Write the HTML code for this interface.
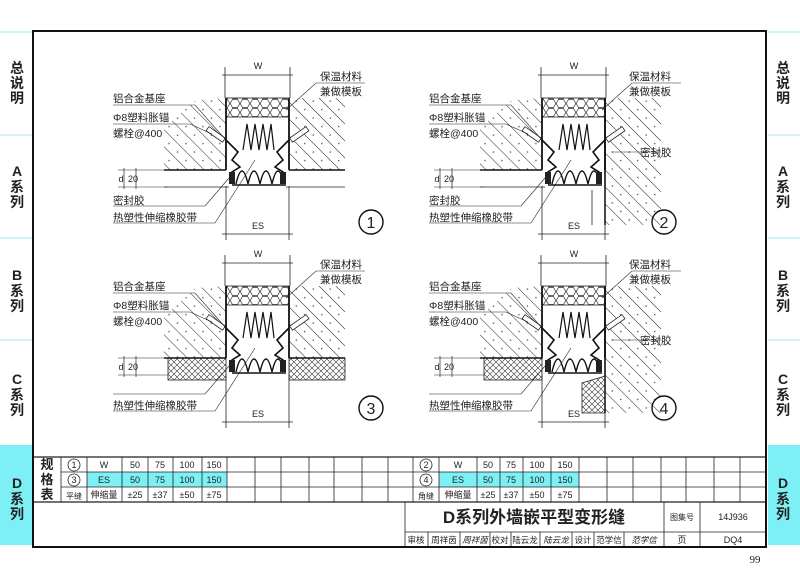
<!DOCTYPE html>
<html><head><meta charset="utf-8"><style>
html,body{margin:0;padding:0;background:#fff;}
svg{display:block;}
text{font-family:"Liberation Sans","Noto Sans CJK SC",sans-serif;fill:#222;}
.s{font-family:"Liberation Serif","Noto Serif CJK SC",serif;}
</style></head><body>
<svg width="800" height="572" viewBox="0 0 800 572" xmlns="http://www.w3.org/2000/svg">
<defs>
<pattern id="hatch" width="12" height="12" patternUnits="userSpaceOnUse" patternTransform="rotate(-45)">
<line x1="0" y1="0" x2="0" y2="12" stroke="#222" stroke-width="1"/>
<circle cx="6" cy="5" r="0.8" fill="#555"/>
</pattern>
<pattern id="hex" width="10" height="9" patternUnits="userSpaceOnUse">
<polygon points="2.5,0.5 7.5,0.5 9.8,4.5 7.5,8.5 2.5,8.5 0.2,4.5" fill="none" stroke="#333" stroke-width="0.7"/>
</pattern>
<pattern id="xh" width="6" height="6" patternUnits="userSpaceOnUse">
<path d="M0,0L6,6M6,0L0,6" stroke="#333" stroke-width="0.6"/>
</pattern>
<g id="core">
<line x1="225" y1="67" x2="225" y2="98" stroke="#222" stroke-width="0.8"/>
<line x1="290" y1="67" x2="290" y2="98" stroke="#222" stroke-width="0.8"/>
<line x1="222" y1="75" x2="293" y2="75" stroke="#222" stroke-width="0.8"/>
<rect x="226" y="98" width="63" height="19" fill="url(#hex)" stroke="#222" stroke-width="0.8"/>
<line x1="226" y1="98" x2="226" y2="170" stroke="#111" stroke-width="1.8"/>
<line x1="289" y1="98" x2="289" y2="170" stroke="#111" stroke-width="1.8"/>
<polyline points="243,150 247,124 251,150 255,124 259,150 263,124 267,150 271,124 274,150" fill="none" stroke="#111" stroke-width="1.2"/>
<path d="M236,184 Q242,158 248,184 Q254,158 260,184 Q266,158 272,184 Q278,158 284,184" fill="none" stroke="#111" stroke-width="1.4"/>
<line x1="232" y1="185" x2="286" y2="185" stroke="#111" stroke-width="1.5"/>
<polyline points="226,140 238,152 232,160 240,167 232,172 232,184" fill="none" stroke="#111" stroke-width="1.6"/>
<polyline points="289,140 277,152 283,160 275,167 283,172 283,184" fill="none" stroke="#111" stroke-width="1.6"/>
<rect x="229" y="172" width="6" height="12" fill="#222"/>
<rect x="280" y="172" width="6" height="12" fill="#222"/>
<rect x="206" y="132" width="20" height="5" fill="#fff" stroke="#222" stroke-width="0.8" transform="rotate(35 216 134)"/>
<rect x="289" y="132" width="20" height="5" fill="#fff" stroke="#222" stroke-width="0.8" transform="rotate(-35 299 134)"/>
<line x1="226" y1="186" x2="226" y2="240" stroke="#222" stroke-width="0.8"/>
<line x1="289" y1="186" x2="289" y2="240" stroke="#222" stroke-width="0.8"/>
<line x1="222" y1="234" x2="293" y2="234" stroke="#222" stroke-width="0.8"/>
<line x1="118" y1="170" x2="168" y2="170" stroke="#222" stroke-width="0.6"/>
<line x1="118" y1="187" x2="168" y2="187" stroke="#222" stroke-width="0.6"/>
<line x1="124" y1="168" x2="124" y2="189" stroke="#222" stroke-width="0.7"/>
<line x1="136" y1="168" x2="136" y2="189" stroke="#222" stroke-width="0.7"/>
<polyline points="113,105 195,105 226,140" fill="none" stroke="#222" stroke-width="0.6"/>
<polyline points="113,124 190,124 212,134" fill="none" stroke="#222" stroke-width="0.6"/>
<polyline points="113,206 205,206 229,178" fill="none" stroke="#222" stroke-width="0.6"/>
<polyline points="113,223 215,223 255,160" fill="none" stroke="#222" stroke-width="0.6"/>
<polyline points="365,83 316,83 286,110" fill="none" stroke="#222" stroke-width="0.6"/>
</g>
</defs>

<rect x="0" y="445" width="32" height="100" fill="#7df0f6"/>
<rect x="768" y="445" width="32" height="100" fill="#7df0f6"/>
<g stroke="#9eeaf0" stroke-width="1">
<line x1="0" y1="32" x2="32" y2="32"/><line x1="0" y1="135" x2="32" y2="135"/><line x1="0" y1="238" x2="32" y2="238"/><line x1="0" y1="340" x2="32" y2="340"/>
<line x1="768" y1="32" x2="800" y2="32"/><line x1="768" y1="135" x2="800" y2="135"/><line x1="768" y1="238" x2="800" y2="238"/><line x1="768" y1="340" x2="800" y2="340"/>
</g>
<g font-size="14" font-weight="bold" text-anchor="middle">
<text x="17" y="73">总</text><text x="17" y="88">说</text><text x="17" y="103">明</text>
<text x="17" y="176">A</text><text x="17" y="192">系</text><text x="17" y="207">列</text>
<text x="17" y="280">B</text><text x="17" y="296">系</text><text x="17" y="311">列</text>
<text x="17" y="384">C</text><text x="17" y="400">系</text><text x="17" y="415">列</text>
<text x="17" y="488">D</text><text x="17" y="504">系</text><text x="17" y="519">列</text>
<text x="783" y="73">总</text><text x="783" y="88">说</text><text x="783" y="103">明</text>
<text x="783" y="176">A</text><text x="783" y="192">系</text><text x="783" y="207">列</text>
<text x="783" y="280">B</text><text x="783" y="296">系</text><text x="783" y="311">列</text>
<text x="783" y="384">C</text><text x="783" y="400">系</text><text x="783" y="415">列</text>
<text x="783" y="488">D</text><text x="783" y="504">系</text><text x="783" y="519">列</text>
</g>

<polygon points="164,170 164,128 196,100 226,98 226,170" fill="url(#hatch)"/>
<polygon points="289,98 345,98 345,170 289,170" fill="url(#hatch)"/>
<line x1="164" y1="170" x2="226" y2="170" stroke="#111" stroke-width="1.6"/>
<line x1="289" y1="170" x2="345" y2="170" stroke="#111" stroke-width="1.6"/>
<line x1="164" y1="187" x2="229" y2="187" stroke="#222" stroke-width="0.8"/>
<line x1="286" y1="187" x2="345" y2="187" stroke="#222" stroke-width="0.8"/>
<use href="#core"/>

<g transform="translate(316,0)">
<polygon points="164,170 164,128 196,100 226,98 226,170" fill="url(#hatch)"/>
<polygon points="289,98 345,98 345,225 289,225" fill="url(#hatch)"/>
<line x1="164" y1="170" x2="226" y2="170" stroke="#111" stroke-width="1.6"/>
<line x1="289" y1="98" x2="289" y2="225" stroke="#111" stroke-width="1.6"/>
<line x1="164" y1="187" x2="229" y2="187" stroke="#222" stroke-width="0.8"/>
<line x1="276" y1="190" x2="276" y2="225" stroke="#222" stroke-width="0.8"/>
<line x1="296" y1="152" x2="345" y2="152" stroke="#222" stroke-width="0.6"/>
<use href="#core"/>
</g>

<g transform="translate(0,188)">
<polygon points="164,170 164,128 196,100 226,98 226,170" fill="url(#hatch)"/>
<polygon points="289,98 345,98 345,170 289,170" fill="url(#hatch)"/>
<rect x="168" y="170" width="58" height="22" fill="url(#xh)" stroke="#222" stroke-width="0.8"/>
<rect x="289" y="170" width="56" height="22" fill="url(#xh)" stroke="#222" stroke-width="0.8"/>
<line x1="164" y1="170" x2="226" y2="170" stroke="#111" stroke-width="1.6"/>
<line x1="289" y1="170" x2="345" y2="170" stroke="#111" stroke-width="1.6"/>
<use href="#core"/>
</g>

<g transform="translate(316,188)">
<polygon points="164,170 164,128 196,100 226,98 226,170" fill="url(#hatch)"/>
<polygon points="289,98 345,98 345,225 289,225" fill="url(#hatch)"/>
<rect x="168" y="170" width="58" height="22" fill="url(#xh)" stroke="#222" stroke-width="0.8"/>
<polygon points="266,195 289,188 289,225 266,225" fill="url(#xh)" stroke="#222" stroke-width="0.8"/>
<line x1="164" y1="170" x2="226" y2="170" stroke="#111" stroke-width="1.6"/>
<line x1="289" y1="98" x2="289" y2="225" stroke="#111" stroke-width="1.6"/>
<line x1="296" y1="152" x2="345" y2="152" stroke="#222" stroke-width="0.6"/>
<use href="#core"/>
</g>

<g font-size="10.5">
<text x="113" y="102">铝合金基座</text><text x="113" y="121">Φ8塑料胀锚</text><text x="113" y="137">螺栓@400</text>
<text x="113" y="204">密封胶</text><text x="113" y="221">热塑性伸缩橡胶带</text>
<text x="320" y="80">保温材料</text><text x="320" y="95">兼做模板</text>
<text x="429" y="102">铝合金基座</text><text x="429" y="121">Φ8塑料胀锚</text><text x="429" y="137">螺栓@400</text>
<text x="429" y="204">密封胶</text><text x="429" y="221">热塑性伸缩橡胶带</text>
<text x="629" y="80">保温材料</text><text x="629" y="95">兼做模板</text><text x="640" y="156">密封胶</text>
<text x="113" y="290">铝合金基座</text><text x="113" y="309">Φ8塑料胀锚</text><text x="113" y="325">螺栓@400</text>
<text x="113" y="409">热塑性伸缩橡胶带</text>
<text x="320" y="268">保温材料</text><text x="320" y="283">兼做模板</text>
<text x="429" y="290">铝合金基座</text><text x="429" y="309">Φ8塑料胀锚</text><text x="429" y="325">螺栓@400</text>
<text x="429" y="409">热塑性伸缩橡胶带</text>
<text x="629" y="268">保温材料</text><text x="629" y="283">兼做模板</text><text x="640" y="344">密封胶</text>
</g>
<g font-size="9" class="s" text-anchor="middle">
<text x="258" y="69">W</text><text x="258" y="229">ES</text>
<text x="574" y="69">W</text><text x="574" y="229">ES</text>
<text x="258" y="257">W</text><text x="258" y="417">ES</text>
<text x="574" y="257">W</text><text x="574" y="417">ES</text>
<text x="121" y="182">d</text><text x="133" y="182">20</text>
<text x="437" y="182">d</text><text x="449" y="182">20</text>
<text x="121" y="370">d</text><text x="133" y="370">20</text>
<text x="437" y="370">d</text><text x="449" y="370">20</text>
</g>
<g fill="none" stroke="#111" stroke-width="1.4">
<circle cx="371" cy="222" r="12"/><circle cx="664" cy="222" r="12"/>
<circle cx="371" cy="408" r="12"/><circle cx="664" cy="408" r="12"/>
</g>
<g font-size="16" text-anchor="middle">
<text x="371" y="228">1</text><text x="664" y="228">2</text><text x="371" y="414">3</text><text x="664" y="414">4</text>
</g>

<rect x="87" y="472" width="140" height="15" fill="#7df0f6"/>
<rect x="439" y="472" width="140" height="15" fill="#7df0f6"/>
<g stroke="#222" stroke-width="0.8">
<line x1="33" y1="457" x2="766" y2="457" stroke-width="1.2"/>
<line x1="61" y1="472" x2="766" y2="472"/><line x1="61" y1="487" x2="766" y2="487"/>
<line x1="33" y1="502" x2="766" y2="502" stroke-width="1.2"/>
<line x1="61" y1="457" x2="61" y2="502"/><line x1="87" y1="457" x2="87" y2="502"/><line x1="122" y1="457" x2="122" y2="502"/>
<line x1="148" y1="457" x2="148" y2="502"/><line x1="173" y1="457" x2="173" y2="502"/><line x1="202" y1="457" x2="202" y2="502"/>
<line x1="227" y1="457" x2="227" y2="502"/><line x1="255" y1="457" x2="255" y2="502"/><line x1="281" y1="457" x2="281" y2="502"/>
<line x1="309" y1="457" x2="309" y2="502"/><line x1="334" y1="457" x2="334" y2="502"/><line x1="362" y1="457" x2="362" y2="502"/>
<line x1="388" y1="457" x2="388" y2="502"/><line x1="413" y1="457" x2="413" y2="502"/>
<line x1="439" y1="457" x2="439" y2="502"/><line x1="477" y1="457" x2="477" y2="502"/><line x1="500" y1="457" x2="500" y2="502"/>
<line x1="523" y1="457" x2="523" y2="502"/><line x1="551" y1="457" x2="551" y2="502"/><line x1="579" y1="457" x2="579" y2="502"/>
<line x1="607" y1="457" x2="607" y2="502"/><line x1="633" y1="457" x2="633" y2="502"/><line x1="661" y1="457" x2="661" y2="502"/>
<line x1="686" y1="457" x2="686" y2="502"/><line x1="714" y1="457" x2="714" y2="502"/><line x1="740" y1="457" x2="740" y2="502"/>
<line x1="405" y1="502" x2="405" y2="547"/>
<line x1="405" y1="532" x2="766" y2="532"/>
<line x1="664" y1="502" x2="664" y2="547"/><line x1="700" y1="502" x2="700" y2="547"/>
<line x1="428" y1="532" x2="428" y2="547"/><line x1="460" y1="532" x2="460" y2="547"/><line x1="490" y1="532" x2="490" y2="547"/>
<line x1="511" y1="532" x2="511" y2="547"/><line x1="540" y1="532" x2="540" y2="547"/><line x1="572" y1="532" x2="572" y2="547"/>
<line x1="594" y1="532" x2="594" y2="547"/><line x1="624" y1="532" x2="624" y2="547"/>
</g>
<g fill="none" stroke="#222" stroke-width="0.8">
<circle cx="74" cy="465" r="6"/><circle cx="74" cy="480" r="6"/>
<circle cx="426" cy="465" r="6"/><circle cx="426" cy="480" r="6"/>
</g>
<g font-size="9" class="s" text-anchor="middle">
<text x="74" y="468">1</text><text x="74" y="483">3</text><text x="426" y="468">2</text><text x="426" y="483">4</text>
<text x="104" y="468">W</text><text x="104" y="483">ES</text><text x="104" y="498">伸缩量</text>
<text x="135" y="468">50</text><text x="160" y="468">75</text><text x="187" y="468">100</text><text x="214" y="468">150</text>
<text x="135" y="483">50</text><text x="160" y="483">75</text><text x="187" y="483">100</text><text x="214" y="483">150</text>
<text x="135" y="498">±25</text><text x="160" y="498">±37</text><text x="187" y="498">±50</text><text x="214" y="498">±75</text>
<text x="458" y="468">W</text><text x="458" y="483">ES</text><text x="458" y="498">伸缩量</text>
<text x="488" y="468">50</text><text x="511" y="468">75</text><text x="537" y="468">100</text><text x="565" y="468">150</text>
<text x="488" y="483">50</text><text x="511" y="483">75</text><text x="537" y="483">100</text><text x="565" y="483">150</text>
<text x="488" y="498">±25</text><text x="511" y="498">±37</text><text x="537" y="498">±50</text><text x="565" y="498">±75</text>
<text x="74" y="499" font-size="8">平缝</text><text x="426" y="499" font-size="8">角缝</text>
<text x="682" y="520" font-size="8">图集号</text><text x="733" y="520">14J936</text>
<text x="682" y="543">页</text><text x="733" y="543">DQ4</text>
<g font-size="8.5">
<text x="416" y="543">审核</text><text x="444" y="543">周祥茵</text><text x="475" y="543" font-style="italic">周祥茵</text>
<text x="500" y="543">校对</text><text x="525" y="543">陆云龙</text><text x="556" y="543" font-style="italic">陆云龙</text>
<text x="583" y="543">设计</text><text x="609" y="543">范学信</text><text x="644" y="543" font-style="italic">范学信</text>
</g>
</g>
<g font-size="13" font-weight="bold" text-anchor="middle">
<text x="47" y="469">规</text><text x="47" y="484">格</text><text x="47" y="499">表</text>
</g>
<text x="534" y="523" font-size="17" font-weight="bold" text-anchor="middle">D系列外墙嵌平型变形缝</text>
<text x="755" y="563" font-size="11" class="s" text-anchor="middle">99</text>

<rect x="33" y="31" width="733" height="516" fill="none" stroke="#111" stroke-width="2"/>
</svg>
</body></html>
